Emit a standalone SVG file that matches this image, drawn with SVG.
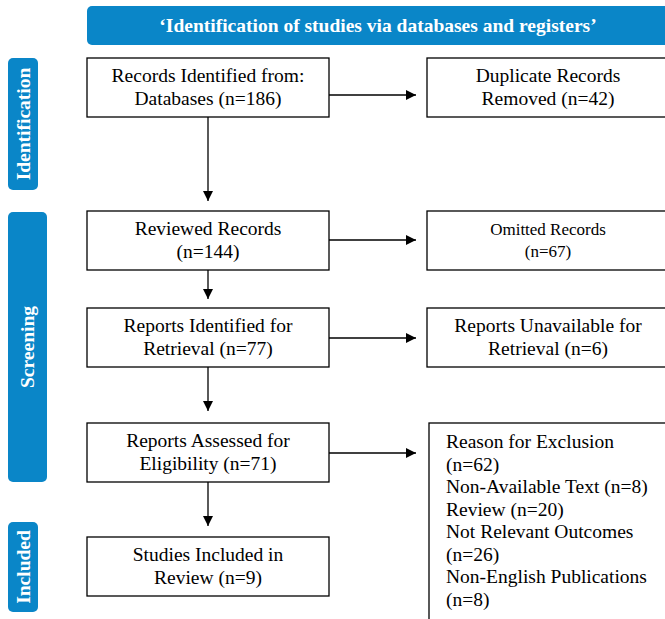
<svg xmlns="http://www.w3.org/2000/svg" width="665" height="619" viewBox="0 0 665 619">
<style>
.box{fill:#fff;stroke:#000;stroke-width:1.3}
.band{fill:#0A86C8}
.t{font-family:"Liberation Serif","Times New Roman",serif;font-size:19.5px;fill:#000;text-anchor:middle}
.tl{font-family:"Liberation Serif","Times New Roman",serif;font-size:19.5px;fill:#000}
.h{font-family:"Liberation Serif","Times New Roman",serif;font-size:19.5px;font-weight:bold;fill:#fff;text-anchor:middle}
.c{stroke:#000;stroke-width:1.3;fill:none;marker-end:url(#ah)}
</style>
<defs>
<marker id="ah" markerWidth="10" markerHeight="10" refX="10" refY="5" orient="auto" markerUnits="userSpaceOnUse">
<path d="M0,0 L10,5 L0,10 z" fill="#000"/>
</marker>
</defs>
<g id="header"><rect class="band" x="87" y="6" width="590" height="39" rx="5"/><text class="h" x="378" y="32">‘Identification of studies via databases and registers’</text></g>
<g id="side-identification"><rect class="band" x="8" y="58" width="30" height="132" rx="5"/><text class="h" transform="translate(30,124) rotate(-90)">Identification</text></g>
<g id="side-screening"><rect class="band" x="8" y="212" width="39" height="270" rx="5"/><text class="h" transform="translate(34,347) rotate(-90)">Screening</text></g>
<g id="side-included"><rect class="band" x="8" y="522" width="30" height="90" rx="5"/><text class="h" transform="translate(30,567) rotate(-90)">Included</text></g>

<g id="n-records"><rect class="box" x="87" y="58" width="242" height="59"/><text class="t" x="208" y="82">Records Identified from:</text><text class="t" x="208" y="105">Databases (n=186)</text></g>
<g id="n-duplicate"><rect class="box" x="427" y="58" width="245" height="59"/><text class="t" x="548" y="82">Duplicate Records</text><text class="t" x="548" y="105">Removed (n=42)</text></g>
<g id="n-reviewed"><rect class="box" x="87" y="211" width="242" height="59"/><text class="t" x="208" y="235">Reviewed Records</text><text class="t" x="208" y="258">(n=144)</text></g>
<g id="n-omitted"><rect class="box" x="427" y="211" width="245" height="59"/><text class="t" x="548" y="235" style="font-size:17px">Omitted Records</text><text class="t" x="548" y="257" style="font-size:17px">(n=67)</text></g>
<g id="n-retrieval"><rect class="box" x="87" y="308" width="242" height="59"/><text class="t" x="208" y="332">Reports Identified for</text><text class="t" x="208" y="355">Retrieval (n=77)</text></g>
<g id="n-unavailable"><rect class="box" x="427" y="308" width="245" height="59"/><text class="t" x="548" y="332">Reports Unavailable for</text><text class="t" x="548" y="355">Retrieval (n=6)</text></g>
<g id="n-assessed"><rect class="box" x="87" y="423" width="242" height="59"/><text class="t" x="208" y="447">Reports Assessed for</text><text class="t" x="208" y="470">Eligibility (n=71)</text></g>
<g id="n-exclusion"><rect class="box" x="429" y="423" width="245" height="205"/>
<text class="tl" x="446" y="448">Reason for Exclusion</text>
<text class="tl" x="446" y="471">(n=62)</text>
<text class="tl" x="446" y="493">Non-Available Text (n=8)</text>
<text class="tl" x="446" y="516">Review (n=20)</text>
<text class="tl" x="446" y="538">Not Relevant Outcomes</text>
<text class="tl" x="446" y="561">(n=26)</text>
<text class="tl" x="446" y="583">Non-English Publications</text>
<text class="tl" x="446" y="606">(n=8)</text>
</g>
<g id="n-included"><rect class="box" x="87" y="537" width="242" height="59"/><text class="t" x="208" y="561">Studies Included in</text><text class="t" x="208" y="584">Review (n=9)</text></g>

<g id="connectors">
<line class="c" x1="208" y1="117" x2="208" y2="201"/>
<line class="c" x1="208" y1="270" x2="208" y2="299"/>
<line class="c" x1="208" y1="367" x2="208" y2="411"/>
<line class="c" x1="208" y1="482" x2="208" y2="526"/>
<line class="c" x1="329" y1="95" x2="416" y2="95"/>
<line class="c" x1="329" y1="240" x2="416" y2="240"/>
<line class="c" x1="329" y1="338" x2="416" y2="338"/>
<line class="c" x1="329" y1="453" x2="416" y2="453"/>
</g>
</svg>
